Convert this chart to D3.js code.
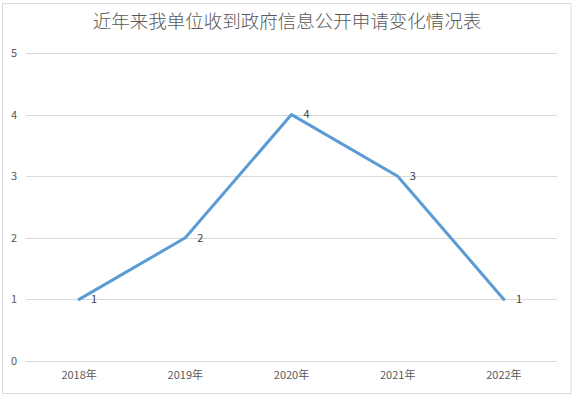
<!DOCTYPE html>
<html><head><meta charset="utf-8">
<script src="https://cdn.jsdelivr.net/npm/d3@7"></script>
<style>html,body{margin:0;padding:0;background:#fff;}svg{display:block;}</style>
</head><body>
<svg id="c" width="572" height="396"></svg>
<script>
const title = "近年来我单位收到政府信息公开申请变化情况表";
const categories = ["2018年","2019年","2020年","2021年","2022年"];
const values = [1, 2, 4, 3, 1];
const yTicks = [0,1,2,3,4,5];

const svg = d3.select("#c");
const font = "'Noto Sans CJK SC','Noto Sans',sans-serif";

// chart border
svg.append("rect").attr("x",2.5).attr("y",3.5).attr("width",568.5).attr("height",390)
  .attr("fill","#fff").attr("stroke","#d9d9d9").attr("stroke-width",1);

const x = d3.scaleBand().domain(categories).range([26,557]);
const y = d3.scaleLinear().domain([0,5]).range([361,53]);

// gridlines
svg.append("g").selectAll("line").data(yTicks).join("line")
  .attr("x1",26).attr("x2",557)
  .attr("y1",d=>Math.round(y(d))+0.5).attr("y2",d=>Math.round(y(d))+0.5)
  .attr("stroke","#d9d9d9").attr("stroke-width",1);

// y axis labels
const yAxis = d3.axisLeft(y).tickValues(yTicks).tickFormat(d3.format("d")).tickSize(0).tickPadding(0);
const gy = svg.append("g").attr("transform","translate(17,0)").call(yAxis);
gy.select(".domain").remove();
gy.selectAll("text").attr("fill","#595959").style("font-family",font).style("font-size","11px");

// x axis labels
const xAxis = d3.axisBottom(x).tickSize(0).tickPadding(0);
const gx = svg.append("g").attr("transform","translate(0,371)").call(xAxis);
gx.select(".domain").remove();
gx.selectAll("text").attr("fill","#595959").style("font-family",font).style("font-size","11px");

// line
const cx = d => x(d) + x.bandwidth()/2;
const line = d3.line().x((d,i)=>cx(categories[i])).y(d=>y(d));
svg.append("path").datum(values).attr("d",line)
  .attr("fill","none").attr("stroke","#5B9BD5").attr("stroke-width",3)
  .attr("stroke-linejoin","round").attr("stroke-linecap","round");

// data labels
svg.append("g").selectAll("text").data(values).join("text")
  .attr("x",(d,i)=>cx(categories[i])+12).attr("y",d=>y(d))
  .attr("dy","0.35em")
  .attr("fill","#404040").style("font-family",font).style("font-size","11px")
  .text(d=>d);

// title
svg.append("text").attr("x",287).attr("y",22).attr("text-anchor","middle")
  .attr("dy","0.35em")
  .attr("fill","#595959").style("font-family",font).style("font-size","18.5px").style("font-weight","300")
  .text(title);
</script>
</body></html>
